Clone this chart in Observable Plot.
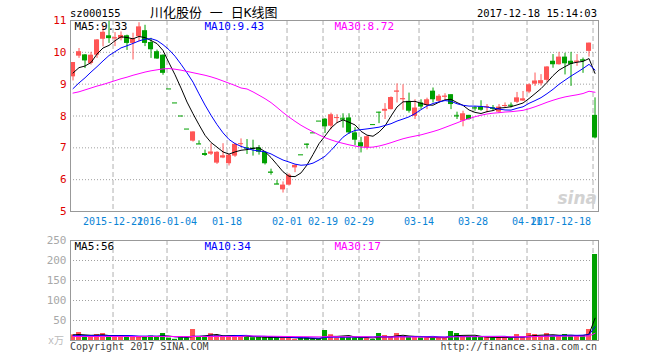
<!DOCTYPE html>
<html><head><meta charset="utf-8">
<script src="https://cdn.jsdelivr.net/npm/d3@7"></script>
<script src="https://cdn.jsdelivr.net/npm/@observablehq/plot@0.6"></script>
<style>
html,body{margin:0;padding:0;background:#fff;}
#wrap{position:relative;width:660px;height:360px;overflow:hidden;}
#wrap svg{position:absolute;left:0;}
</style></head><body><div id="wrap"></div>
<script>
// ---------- data ----------
const opens = [9.23,9.88,9.92,9.65,9.91,10.41,10.52,10.42,10.43,10.52,
 10.28,10.49,10.68,10.31,10.02,9.91,8.85,8.41,8.00,7.59,
 7.21,7.13,6.82,6.80,6.52,6.68,6.50,6.74,7.10,7.00,
 6.99,7.00,6.86,6.24,5.87,5.68,5.83,6.37,6.78,7.12,
 7.47,7.84,7.90,7.68,7.93,7.93,7.94,7.47,7.16,7.00,
 7.73,8.12,8.15,8.20,8.76,8.52,8.46,7.99,8.41,8.33,
 8.78,8.46,8.60,8.67,8.02,7.84,8.02,8.27,8.28,8.27,
 8.26,8.12,8.31,8.34,8.43,8.47,8.75,9.00,9.01,9.12,
 9.72,9.61,9.85,9.72,9.70,9.77,10.03,8.02];
const highs = [9.68,10.12,9.93,10.00,10.40,10.83,10.98,10.62,10.64,10.54,
 10.60,10.93,10.85,10.44,10.07,9.92,8.85,8.41,8.00,7.59,
 7.50,7.22,6.93,7.12,6.88,7.13,6.80,7.14,7.28,7.26,
 7.24,7.07,6.88,6.33,5.98,5.93,6.18,6.46,6.78,7.12,
 7.47,7.84,7.92,8.09,8.04,8.07,8.07,7.63,7.33,7.37,
 7.73,8.12,8.39,8.60,9.01,8.98,8.72,8.51,8.51,8.56,
 8.88,8.67,8.70,8.67,8.12,8.15,8.02,8.29,8.48,8.36,
 8.33,8.36,8.41,8.41,8.74,8.77,9.01,9.35,9.30,9.55,
 9.93,10.00,9.97,10.00,9.93,9.82,10.29,8.57];
const lows = [9.10,9.81,9.49,9.60,9.81,10.17,10.28,10.18,10.36,10.06,
 9.76,10.33,10.18,9.81,9.78,9.28,8.85,8.41,8.00,7.59,
 7.18,7.11,6.73,6.76,6.48,6.66,6.43,6.70,7.00,6.79,
 6.74,6.77,6.46,6.14,5.85,5.58,5.80,6.22,6.78,6.97,
 7.47,7.84,7.45,7.57,7.76,7.62,7.42,7.07,6.84,6.93,
 7.73,7.76,7.89,8.19,8.41,8.18,8.09,7.89,8.20,8.20,
 8.41,8.41,8.46,8.20,7.89,7.66,7.87,8.15,8.15,8.10,
 8.15,8.08,8.25,8.25,8.39,8.46,8.70,8.93,8.94,9.04,
 9.50,9.60,9.29,8.93,9.56,9.34,9.85,7.28];
const closes = [9.68,10.02,9.73,9.91,10.39,10.63,10.43,10.46,10.53,10.28,
 10.42,10.80,10.28,10.08,9.79,9.34,8.85,8.41,8.00,7.59,
 7.50,7.12,6.76,6.87,6.86,6.75,6.77,7.11,7.13,6.96,
 6.95,6.86,6.50,6.20,5.86,5.83,6.14,6.45,6.78,7.11,
 7.47,7.84,7.66,8.04,7.95,7.90,7.47,7.24,7.03,7.35,
 7.73,8.12,8.21,8.58,8.78,8.54,8.15,8.25,8.28,8.51,
 8.51,8.62,8.62,8.36,8.00,8.07,7.89,8.25,8.18,8.29,
 8.24,8.28,8.33,8.32,8.57,8.54,8.98,9.10,9.11,9.54,
 9.61,9.85,9.64,9.62,9.72,9.75,10.29,7.31];
const volumes = [14,20,11,7.5,15,17.5,11,11,7.5,10,
 10,10,10,11,10,17.5,6,3,7,6,
 27.5,8,10,17,12.5,11,10,12.5,11,8,
 7,8,7.5,8,8,8,7,3,6,6,
 3,3,25,14.5,6,8,8,7,7,7,
 2.5,17.5,12.5,8,17.5,10,8,8,7,7,
 7,7,7,22.5,17.5,10,8,8,8,8,
 7,8,7,7,15,8,17.5,15,11,17.5,
 11,11,15,11,12.5,12.5,27.5,215];
// moving-average values before each window is full
const ma5Lead = [9.35,9.52,9.57,9.68];
const ma10Lead = [8.86,9.04,9.20,9.38,9.55,9.73,9.90,10.02,10.14];
const ma30Lead = [8.72,8.76,8.82,8.88,8.94,8.99,9.05,9.11,9.17,9.22,
 9.28,9.33,9.38,9.42,9.45,9.48,9.49,9.47,9.44,9.40,
 9.36,9.32,9.28,9.23,9.17,9.10,9.03,8.96,8.88];
const vma5Lead = [14,15,14,13];
const vma10Lead = [12,12,12,12,12,12,12,12,12];
const vma30Lead = [10,10,10,10,10,10,10,10,10,10,
 10,10,10,10,10,10,10,10,10,10,
 10,10,10,10,10,10,10,10,10];
const maLabels = ["MA5:9.33","MA10:9.43","MA30:8.72"];
const volMaLabels = ["MA5:56","MA10:34","MA30:17"];
const tickIndex = [7,16,26,36,42,48,58,67,76,87];
const tickLabels = ["2015-12-21","2016-01-04","01-18","02-01","02-19","02-29","03-14","03-28","04-11","2017-12-18"];
const priceTicks = [5,6,7,8,9,10,11];
const priceGrid = [6,7,8,9,10];
const volTicks = [50,100,150,200,250];
const volGrid = [50,100,150,200];

// ---------- build ----------
const RED = "#ff5555", GREEN = "#00a000";
const MA_COLORS = ["#000000","#0000ff","#ff00ff"];
const candles = opens.map((o,i)=>({i, open:o, high:highs[i], low:lows[i], close:closes[i], vol:volumes[i], up: closes[i] > o}));
function movingAverage(values, k, lead){
  return values.map((_,i)=>({i, v: i >= k-1 ? d3.mean(values.slice(i-k+1,i+1)) : lead[i]}));
}
const ma = [movingAverage(closes,5,ma5Lead), movingAverage(closes,10,ma10Lead), movingAverage(closes,30,ma30Lead)];
const vma = [movingAverage(volumes,5,vma5Lead), movingAverage(volumes,10,vma10Lead), movingAverage(volumes,30,vma30Lead)];
const xDomain = [-0.42, 87.58];
const HALF = 0.42;
const gridXPos = tickIndex.map(i => i - 1/3);
const FONT = "'DejaVu Sans Mono', monospace";
const labelDx = [4,134,264];

function candleMarks(){
  const up = candles.filter(d=>d.up), dn = candles.filter(d=>!d.up);
  const flat = candles.filter(d=>Math.abs(d.open-d.close) < 0.03);
  return [
    Plot.ruleX(up, {x:"i", y1:"low", y2:"high", stroke:RED, strokeWidth:1}),
    Plot.ruleX(dn, {x:"i", y1:"low", y2:"high", stroke:GREEN, strokeWidth:1}),
    Plot.rect(up, {x1:d=>d.i-HALF, x2:d=>d.i+HALF, y1:"open", y2:"close", fill:RED}),
    Plot.rect(dn, {x1:d=>d.i-HALF, x2:d=>d.i+HALF, y1:"open", y2:"close", fill:GREEN}),
    Plot.ruleY(flat, {y:"close", x1:d=>d.i-HALF, x2:d=>d.i+HALF, stroke:d=>d.up?RED:GREEN, strokeWidth:1})
  ];
}

const main = Plot.plot({
  width:660, height:232,
  marginLeft:70, marginRight:62, marginTop:20, marginBottom:21,
  style:{fontFamily:FONT, fontSize:"10px", background:"white", overflow:"visible"},
  x:{domain:xDomain, axis:null},
  y:{domain:[5,11], axis:null},
  color:{type:"identity"},
  marks:[
    Plot.ruleY(priceGrid, {stroke:"#a0a0a0", strokeDasharray:"1,2"}),
    Plot.ruleX(gridXPos, {stroke:"#b0b0b0", strokeDasharray:"5,3"}),
    ...candleMarks(),
    ...ma.map((s,k)=>Plot.line(s, {x:"i", y:"v", stroke:MA_COLORS[k], strokeWidth:1, clip:true})),
    Plot.frame({stroke:"#999"}),
    Plot.axisY({ticks:priceTicks, tickSize:0, tickPadding:4, fill:"#e00000", label:null, fontSize:11,
      tickFormat:d=>String(d)}),
    Plot.axisX({ticks:gridXPos.slice(0,-1), tickSize:0, tickPadding:6, fill:"#0a84d6", label:null,
      tickFormat:(d,i)=>tickLabels[i], fontSize:10}),
    Plot.text([tickLabels[tickLabels.length-1]], {x:[gridXPos[gridXPos.length-1]], y:[5], text:d=>d,
      textAnchor:"end", lineAnchor:"top", dx:-2, dy:6, fill:"#0a84d6", fontSize:10}),
    ...maLabels.map((t,k)=>Plot.text([t], {text:d=>d, frameAnchor:"top-left", dx:labelDx[k], dy:6,
      textAnchor:"start", lineAnchor:"middle", fill:MA_COLORS[k], fontSize:11}))
  ]
});
main.style.top = "0px";

const vol = Plot.plot({
  width:660, height:128,
  marginLeft:70, marginRight:62, marginTop:8, marginBottom:20,
  style:{fontFamily:FONT, fontSize:"10px", background:"white", overflow:"visible"},
  x:{domain:xDomain, axis:null},
  y:{domain:[0,250], axis:null},
  marks:[
    Plot.ruleY(volGrid, {stroke:"#a0a0a0", strokeDasharray:"1,2"}),
    Plot.ruleX(gridXPos, {stroke:"#b0b0b0", strokeDasharray:"5,3"}),
    Plot.rect(candles.filter(d=>d.up), {x1:d=>d.i-HALF, x2:d=>d.i+HALF, y1:0, y2:"vol", fill:RED}),
    Plot.rect(candles.filter(d=>!d.up), {x1:d=>d.i-HALF, x2:d=>d.i+HALF, y1:0, y2:"vol", fill:GREEN}),
    ...vma.map((s,k)=>Plot.line(s, {x:"i", y:"v", stroke:MA_COLORS[k], strokeWidth:1, clip:true})),
    Plot.frame({stroke:"#999"}),
    Plot.axisY({ticks:volTicks, tickSize:0, tickPadding:4, fill:"#a8a8a8", label:null, fontSize:11,
      tickFormat:d=>String(d)}),
    ...volMaLabels.map((t,k)=>Plot.text([t], {text:d=>d, frameAnchor:"top-left", dx:labelDx[k], dy:6,
      textAnchor:"start", lineAnchor:"middle", fill:MA_COLORS[k], fontSize:11}))
  ]
});
vol.style.top = "232px";

const wrap = document.getElementById("wrap");
wrap.appendChild(main);
wrap.appendChild(vol);

// titles / captions
const ov = d3.create("svg").attr("width",660).attr("height",360)
  .style("position","absolute").style("left","0px").style("top","0px").style("pointer-events","none");
function txt(s, x, y, opts){
  const t = ov.append("text").attr("x",x).attr("y",y).text(s)
    .attr("font-family", opts.family || FONT).attr("font-size", opts.size || 10)
    .attr("fill", opts.fill || "#000").attr("text-anchor", opts.anchor || "start")
    .style("white-space","pre");
  if (opts.weight) t.attr("font-weight", opts.weight);
  if (opts.style) t.attr("font-style", opts.style);
  return t;
}
txt("sz000155", 70, 17, {size:10.5});
txt("川化股份 一 日K线图", 150, 17, {size:13, family:"'DejaVu Sans Mono','Noto Sans CJK SC',sans-serif"});
txt("2017-12-18 15:14:03", 597, 17, {size:10.5, anchor:"end"});
txt("sina", 597, 204, {size:17, family:"'DejaVu Sans',sans-serif", weight:"bold", style:"italic", fill:"#d2d2d2", anchor:"end"});
txt("x万", 64, 344, {size:10, family:"'DejaVu Sans Mono','Noto Sans CJK SC',sans-serif", fill:"#bbbbbb", anchor:"end"});
txt("Copyright 2017 SINA.COM", 70, 350, {size:10, fill:"#444"});
txt("http://finance.sina.com.cn", 597, 350, {size:10, fill:"#444", anchor:"end"});
wrap.appendChild(ov.node());
</script></body></html>
